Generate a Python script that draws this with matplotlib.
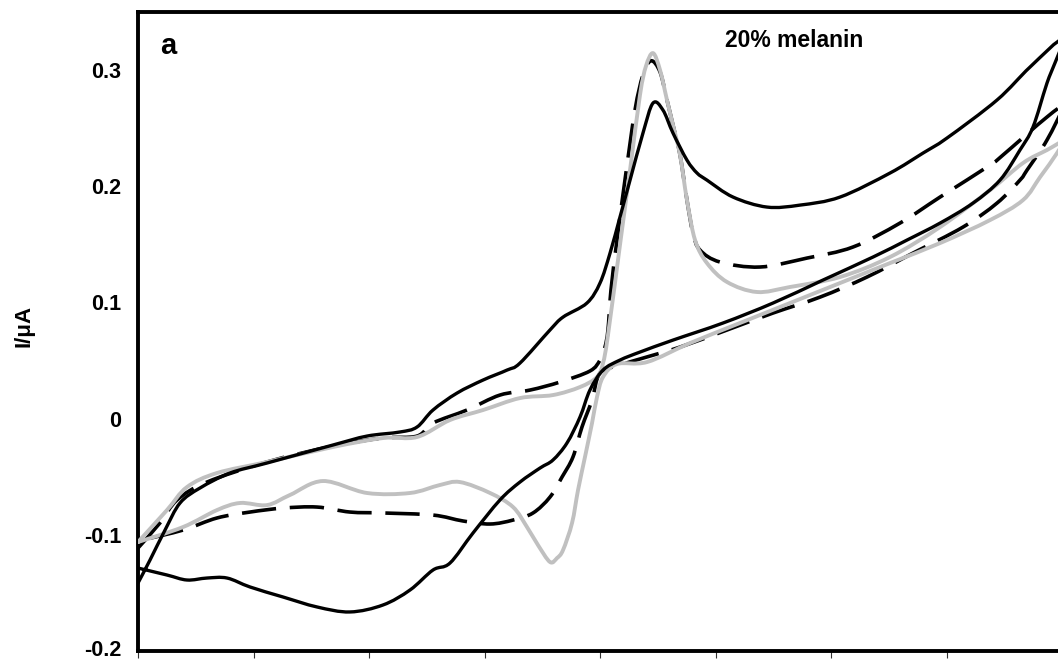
import matplotlib
matplotlib.use('Agg')
import matplotlib.pyplot as plt
import matplotlib.transforms as mtransforms
from matplotlib.path import Path
from matplotlib.patches import PathPatch

plt.rcParams['font.family'] = ['Liberation Sans', 'DejaVu Sans']
plt.rcParams['font.weight'] = 'bold'

# potential (V) and current (uA), forward scan then return scan
# black solid
e_solid = [0, 0.0104, 0.0234, 0.0364, 0.0537, 0.0797, 0.1117, 0.1688, 0.1983, 0.2268,
           0.2416, 0.2554, 0.2762, 0.2987, 0.3195, 0.3307, 0.3567, 0.368, 0.3887, 0.4,
           0.4087, 0.4173, 0.426, 0.4372, 0.4459, 0.4545, 0.4632, 0.4753, 0.484, 0.4926,
           0.5152, 0.5446, 0.5732, 0.6078, 0.6511, 0.6797, 0.7004, 0.7437, 0.7723, 0.8,
           0.787, 0.7749, 0.7636, 0.7463, 0.7229, 0.6944, 0.6658, 0.6364, 0.5931, 0.5498,
           0.5065, 0.4632, 0.4346, 0.4173, 0.4026, 0.3913, 0.3827, 0.3714, 0.3593, 0.3481,
           0.3307, 0.3134, 0.29, 0.2701, 0.2554, 0.2355, 0.2121, 0.1835, 0.155, 0.1255,
           0.097, 0.0771, 0.0597, 0.0424, 0.0251, 0]
i_solid = [-0.1415, -0.1217, -0.0959, -0.0726, -0.0597, -0.0468, -0.0382, -0.0227, -0.015, -0.0115,
           -0.0072, 0.0074, 0.022, 0.0332, 0.0418, 0.0478, 0.0763, 0.0874, 0.0995, 0.1167,
           0.1425, 0.1735, 0.2053, 0.2458, 0.2716, 0.2656, 0.2458, 0.2225, 0.2114, 0.2053,
           0.1907, 0.1821, 0.1838, 0.1907, 0.2114, 0.2286, 0.2415, 0.2742, 0.3026, 0.3258,
           0.2888, 0.251, 0.2312, 0.2053, 0.1855, 0.1683, 0.1537, 0.1391, 0.1193, 0.0995,
           0.0823, 0.0676, 0.0573, 0.0504, 0.0418, 0.0246, 0.0014, -0.021, -0.0356, -0.0425,
           -0.0546, -0.070, -0.0985, -0.1243, -0.1303, -0.1475, -0.1604, -0.1664, -0.1621, -0.1535,
           -0.1449, -0.1372, -0.1372, -0.1389, -0.1346, -0.1286]

# black dashed
e_dash = [0, 0.019, 0.0338, 0.0597, 0.1117, 0.1688, 0.2121, 0.2416, 0.2554, 0.2848,
          0.3134, 0.3394, 0.3654, 0.3913, 0.4, 0.4043, 0.4069, 0.4095, 0.4147, 0.4216,
          0.4303, 0.4372, 0.4442, 0.452, 0.458, 0.4632, 0.4693, 0.4753, 0.4805, 0.4866,
          0.5039, 0.5385, 0.5792, 0.619, 0.6597, 0.6944, 0.7377, 0.7489, 0.787, 0.8,
          0.787, 0.7697, 0.7636, 0.7437, 0.7143, 0.671, 0.6312, 0.5905, 0.5498, 0.51,
          0.4693, 0.4372, 0.4173, 0.4, 0.3931, 0.3844, 0.3766, 0.3671, 0.3567, 0.342,
          0.3247, 0.3048, 0.2814, 0.2554, 0.2121, 0.1835, 0.155, 0.1255, 0.097, 0.0684,
          0.039, 0.0043, 0]
i_dash = [-0.1114, -0.0898, -0.070, -0.0546, -0.0373, -0.0236, -0.0167, -0.015, -0.0038, 0.0074,
          0.0203, 0.0246, 0.0315, 0.041, 0.0504, 0.0616, 0.0763, 0.1107, 0.1537, 0.2053,
          0.2656, 0.2957, 0.3080, 0.2983, 0.2742, 0.2527, 0.2269, 0.1881, 0.1597, 0.1451,
          0.1348, 0.1305, 0.1382, 0.1477, 0.1683, 0.1907, 0.2182, 0.2269, 0.2596, 0.2673,
          0.2398, 0.2139, 0.2053, 0.1855, 0.1649, 0.1425, 0.1219, 0.1046, 0.0909, 0.0763,
          0.0616, 0.0521, 0.0461, 0.0392, 0.016, -0.0072, -0.033, -0.0503, -0.0675, -0.0812,
          -0.0873, -0.0907, -0.0881, -0.083, -0.0812, -0.0804, -0.0761, -0.077, -0.0804, -0.0855,
          -0.0959, -0.1045, -0.1071]

# grey solid
e_grey = [0, 0.0251, 0.0424, 0.0684, 0.1117, 0.1688, 0.2121, 0.2416, 0.2701, 0.2987,
          0.3307, 0.3593, 0.3827, 0.3974, 0.4026, 0.4069, 0.4182, 0.426, 0.4346, 0.4398,
          0.4459, 0.452, 0.458, 0.4632, 0.4693, 0.4753, 0.4823, 0.4926, 0.51, 0.5359,
          0.5645, 0.6078, 0.6511, 0.6944, 0.7377, 0.7662, 0.787, 0.8,
          0.7957, 0.781, 0.7662, 0.7377, 0.6944, 0.6511, 0.6078, 0.5645, 0.5212, 0.4779,
          0.4407, 0.4147, 0.4026, 0.3974, 0.3931, 0.387, 0.381, 0.3758, 0.368, 0.3628,
          0.3567, 0.3463, 0.3368, 0.3247, 0.3048, 0.2788, 0.2615, 0.2355, 0.1983, 0.1602,
          0.1316, 0.1117, 0.0883, 0.0684, 0.039, 0]
i_grey = [-0.1062, -0.0787, -0.0589, -0.0468, -0.0373, -0.0244, -0.0167, -0.0158, -0.0012, 0.0074,
          0.0177, 0.0203, 0.0272, 0.0358, 0.0478, 0.0719, 0.1563, 0.2139, 0.2785, 0.3034,
          0.3146, 0.30, 0.2742, 0.2527, 0.2269, 0.1881, 0.1537, 0.1339, 0.1176, 0.109,
          0.1133, 0.1219, 0.1391, 0.1649, 0.1967, 0.22, 0.2312, 0.238,
          0.2286, 0.2079, 0.1881, 0.1709, 0.1511, 0.1339, 0.1167, 0.0995, 0.0823, 0.065,
          0.0487, 0.047, 0.0358, 0.0186, -0.0038, -0.033, -0.0614, -0.0898, -0.1131, -0.12,
          -0.1234, -0.1088, -0.0933, -0.0761, -0.064, -0.0546, -0.0571, -0.064, -0.064, -0.0537,
          -0.0657, -0.0744, -0.0726, -0.0787, -0.0933, -0.1062]

y_ticks = [-0.2, -0.1, 0, 0.1, 0.2, 0.3]
y_labels = ['-0.2', '-0.1', '0', '0.1', '0.2', '0.3']
x_ticks = [0, 0.1, 0.2, 0.3, 0.4, 0.5, 0.6, 0.7, 0.8]


def smooth_path(xs, ys):
    # excel style "smoothed line": cardinal spline drawn as cubic bezier segments
    pts = list(zip(xs, ys))
    n = len(pts)
    verts = [pts[0]]
    codes = [Path.MOVETO]
    for k in range(n - 1):
        p0 = pts[k - 1] if k > 0 else pts[k]
        p1 = pts[k]
        p2 = pts[k + 1]
        p3 = pts[k + 2] if k + 2 < n else pts[k + 1]
        c1 = (p1[0] + (p2[0] - p0[0]) / 6, p1[1] + (p2[1] - p0[1]) / 6)
        c2 = (p2[0] - (p3[0] - p1[0]) / 6, p2[1] - (p3[1] - p1[1]) / 6)
        verts += [c1, c2, p2]
        codes += [Path.CURVE4] * 3
    return Path(verts, codes)


fig = plt.figure(figsize=(10.58, 6.61), dpi=100)
ax = fig.add_axes([138/1058, 10/661, 924/1058, 639/661])

ax.add_patch(PathPatch(smooth_path(e_dash, i_dash), fill=False, edgecolor='black', lw=2.6,
                       linestyle=(0, (9.5, 3.8)), zorder=2))
ax.add_patch(PathPatch(smooth_path(e_grey, i_grey), fill=False, edgecolor='#c0c0c0', lw=2.8,
                       joinstyle='round', capstyle='round', zorder=3))
ax.add_patch(PathPatch(smooth_path(e_solid, i_solid), fill=False, edgecolor='black', lw=2.4,
                       joinstyle='round', capstyle='round', zorder=4))

ax.set_xlim(0, 0.8)
ax.set_ylim(-0.2, 0.35)
ax.set_xticks(x_ticks)
ax.set_xticklabels([])
ax.set_yticks(y_ticks)
ax.set_yticklabels(y_labels, fontsize=15.5, fontweight='bold')
ax.tick_params(axis='y', length=0, pad=12)
ax.tick_params(axis='x', direction='out', length=5, width=0.8, color='#333333')

# bottom label sits right at the figure edge, lift it a touch
bottom_lbl = ax.get_yticklabels()[0]
bottom_lbl.set_transform(bottom_lbl.get_transform() +
                         mtransforms.ScaledTranslation(0, 3/100, fig.dpi_scale_trans))

for s in ax.spines.values():
    s.set_linewidth(2.8)

fig.text(24/1058, 1 - 326/661, 'I/\u03bcA', rotation=90, ha='center', va='center',
         fontsize=16, fontweight='bold')
fig.text(160/1058, 1 - 54/661, 'a', ha='left', va='baseline', fontsize=21, fontweight='bold')
fig.text(794/1058, 1 - 47/661, '20% melanin', ha='center', va='baseline',
         fontsize=16.5, fontweight='bold')

fig.savefig('out.png', dpi=100)
